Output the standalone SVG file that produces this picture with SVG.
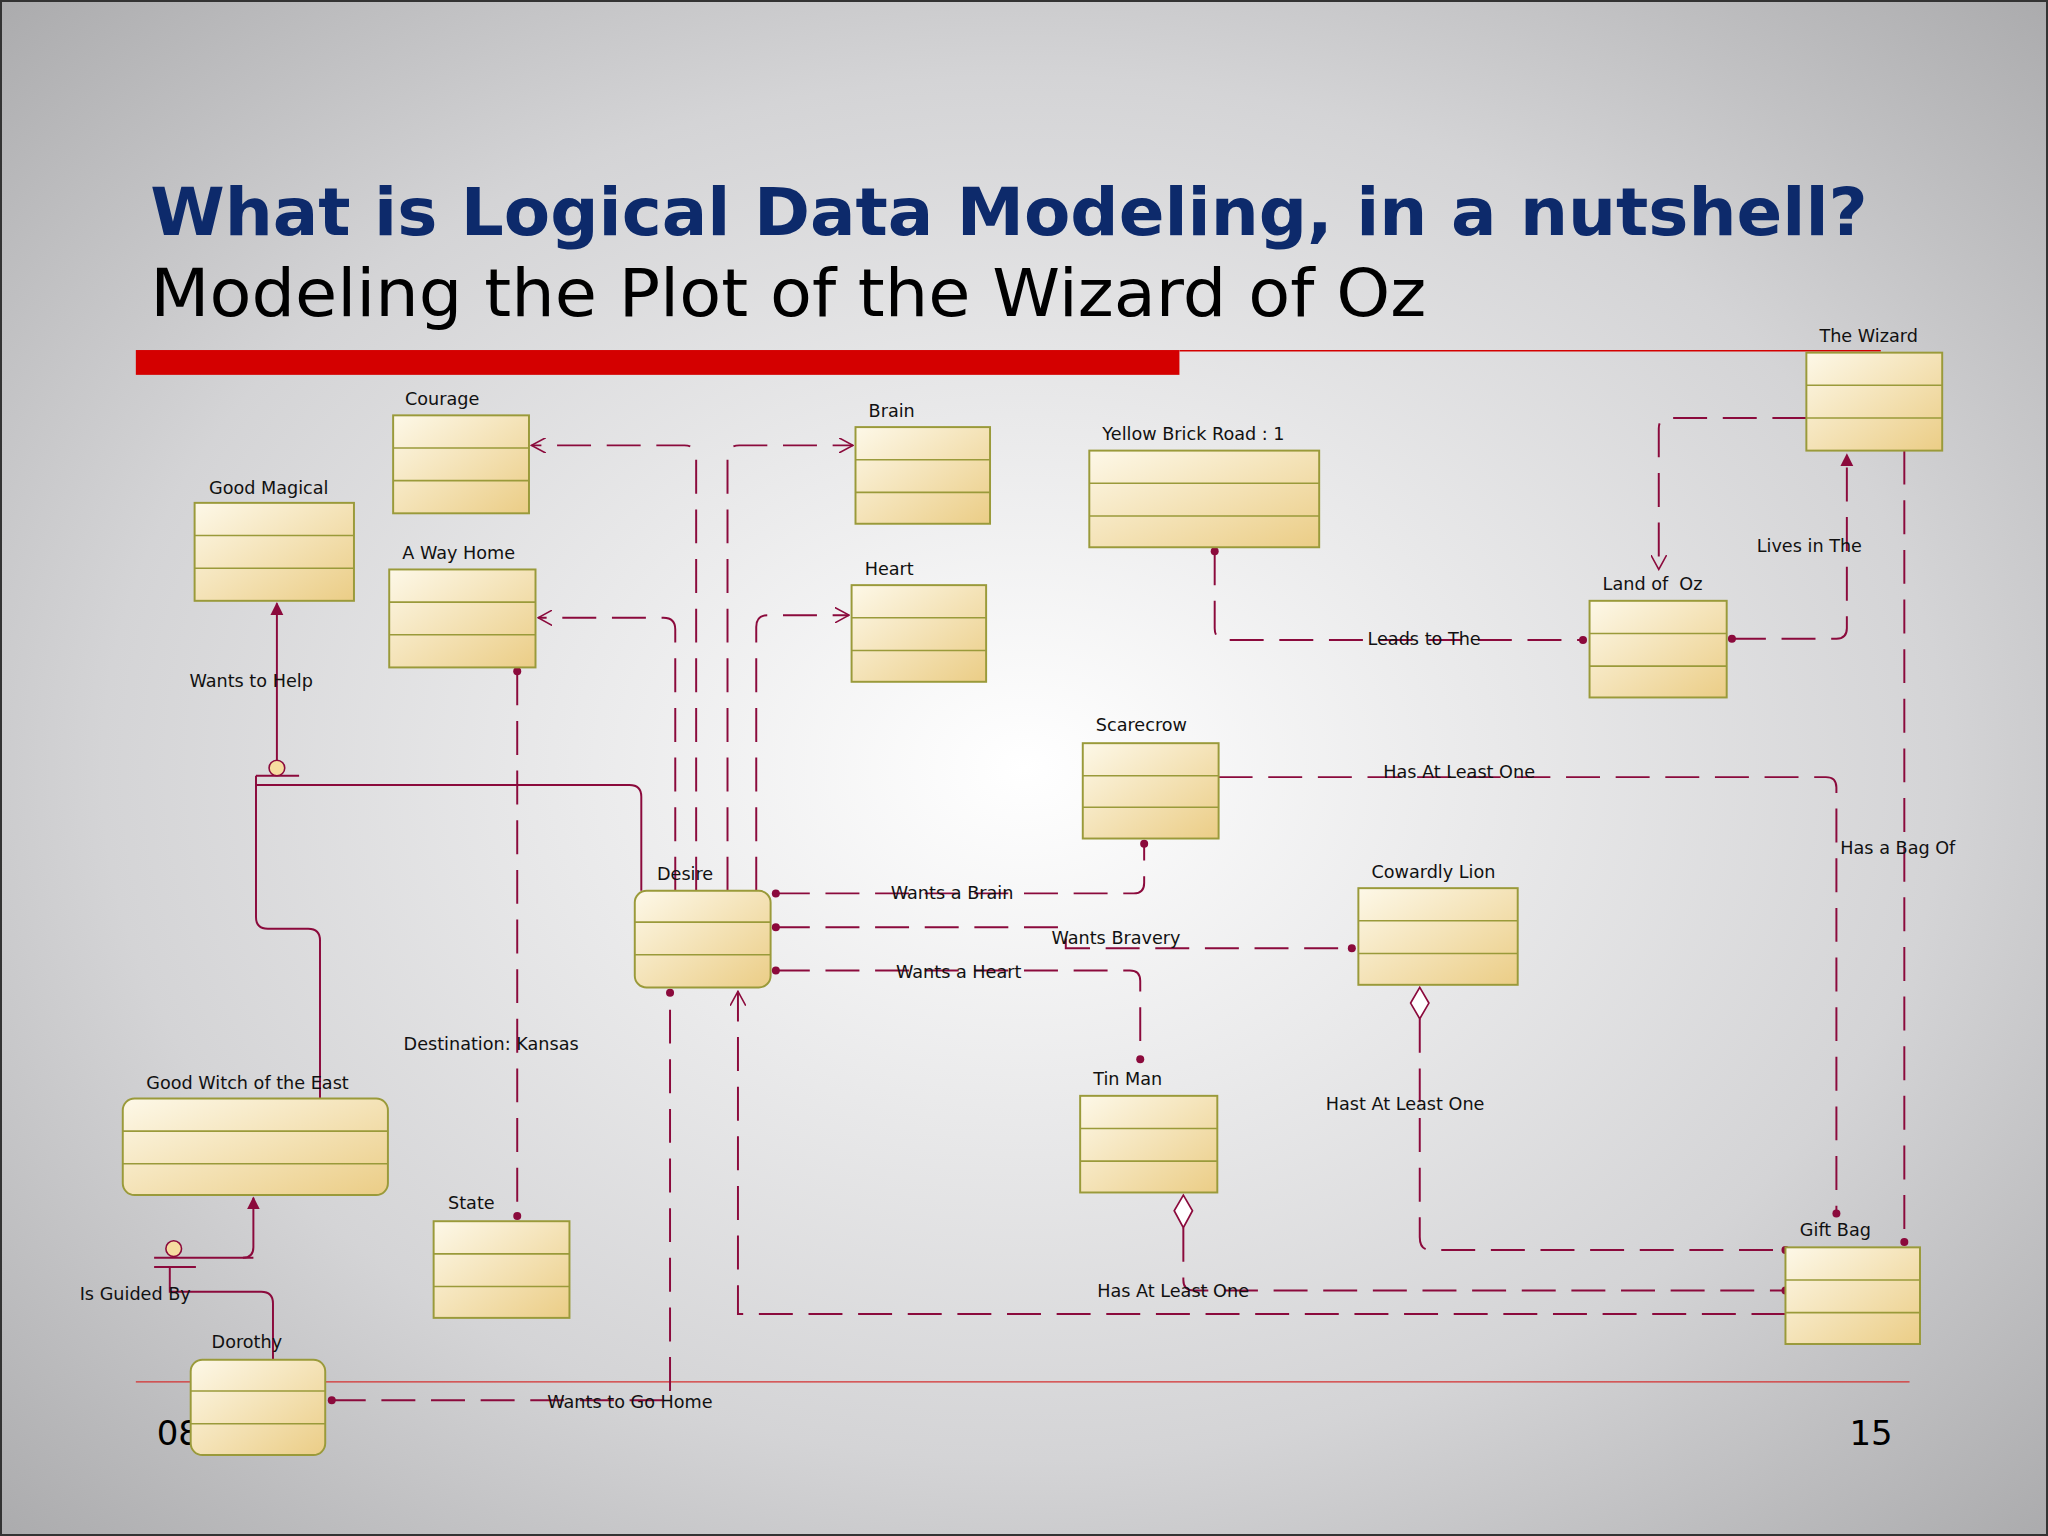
<svg xmlns="http://www.w3.org/2000/svg" width="2048" height="1536" viewBox="0 0 2048 1536">
<defs>
<radialGradient id="bg" cx="0.5" cy="0.5" r="0.75">
<stop offset="0" stop-color="#ffffff"/><stop offset="0.6" stop-color="#d4d4d6"/><stop offset="1" stop-color="#a4a4a6"/>
</radialGradient>
<linearGradient id="box" x1="0" y1="0" x2="1" y2="1">
<stop offset="0" stop-color="#fdf8e8"/><stop offset="1" stop-color="#ebcd86"/>
</linearGradient>
<marker id="open" viewBox="0 0 12 12" refX="11" refY="6" markerWidth="12" markerHeight="12" markerUnits="userSpaceOnUse" orient="auto"><path d="M0,0 L11,6 L0,12" fill="none" stroke="#8b0a3c" stroke-width="1.2"/></marker>
<marker id="fill" viewBox="0 0 10 14" refX="9" refY="7" markerWidth="10" markerHeight="14" markerUnits="userSpaceOnUse" orient="auto"><path d="M0,2 L10,7 L0,12 Z" fill="#8b0a3c"/></marker>
<marker id="dot" viewBox="0 0 8 8" refX="4" refY="4" markerWidth="7" markerHeight="7" markerUnits="userSpaceOnUse"><circle cx="4" cy="4" r="3.5" fill="#8b0a3c"/></marker>
</defs>
<style>
.b{fill:url(#box);stroke:#9a9a3a;stroke-width:1.5}
.d{stroke:#9a9a3a;stroke-width:1.2}
.nl{font-family:"DejaVu Sans",sans-serif;font-size:13.5px;fill:#111}
.cl{font-family:"DejaVu Sans",sans-serif;font-size:13.5px;fill:#111}
.c{fill:none;stroke:#8b0a3c;stroke-width:1.5;stroke-dasharray:26 12}
.s{fill:none;stroke:#8b0a3c;stroke-width:1.5}
</style>
<rect width="2048" height="1536" fill="url(#bg)"/>
<rect x="1" y="1" width="2046" height="1534" fill="none" stroke="#333" stroke-width="2"/>
<g transform="scale(1.30612)">
<text x="115" y="180" font-family="'DejaVu Sans',Verdana,sans-serif" font-weight="bold" font-size="50" fill="#0d2a6b" textLength="1315" lengthAdjust="spacingAndGlyphs">What is Logical Data Modeling, in a nutshell?</text>
<text x="115" y="242" font-family="'DejaVu Sans',Verdana,sans-serif" font-size="50" fill="#000" textLength="977" lengthAdjust="spacingAndGlyphs">Modeling the Plot of the Wizard of Oz</text>
<rect x="104" y="268" width="799" height="19" fill="#d40000"/>
<line x1="903" y1="268.5" x2="1440" y2="268.5" stroke="#d40000" stroke-width="1.2"/>
<line x1="104" y1="1058" x2="1462" y2="1058" stroke="#d43030" stroke-width="1"/>
<text x="120" y="1106" font-family="'DejaVu Sans',sans-serif" font-size="26" fill="#000">08</text>
<text x="1416" y="1106" font-family="'DejaVu Sans',sans-serif" font-size="26" fill="#000">15</text>

<g id="connectors">
<path class="c" d="M533,682 V350 Q533,341 524,341 H407" marker-end="url(#open)"/>
<path class="c" d="M557,682 V350 Q557,341 566,341 H653" marker-end="url(#open)"/>
<path class="c" d="M517,682 V482 Q517,473 508,473 H412" marker-end="url(#open)"/>
<path class="c" d="M579,682 V480 Q579,471 588,471 H650" marker-end="url(#open)"/>
<path class="s" d="M491,682 V610 Q491,601 482,601 H196"/>
<path class="s" d="M245,841 V720 Q245,711 236,711 H205 Q196,711 196,702 V594"/>
<line class="s" x1="196" y1="594" x2="229" y2="594"/>
<circle cx="212" cy="588" r="6" fill="#f6dca0" stroke="#8b0a3c" stroke-width="1.2"/>
<path class="s" d="M212,582 V462" marker-end="url(#fill)"/>
<path class="s" d="M209,1041 V998 Q209,989 200,989 H130 V970"/>
<line class="s" x1="118" y1="970" x2="150" y2="970"/>
<line class="s" x1="118" y1="963" x2="194" y2="963"/>
<circle cx="133" cy="956" r="6" fill="#f6dca0" stroke="#8b0a3c" stroke-width="1.2"/>
<path class="s" d="M186,963 Q194,963 194,955 V917" marker-end="url(#fill)"/>
<path class="c" d="M396,514 V931" marker-start="url(#dot)" marker-end="url(#dot)"/>
<path class="c" d="M254,1072 H513 V760" marker-start="url(#dot)" marker-end="url(#dot)"/>
<path class="c" d="M594,684 H868 Q876,684 876,676 V646" marker-start="url(#dot)" marker-end="url(#dot)"/>
<path class="c" d="M594,710 H810 Q816,710 816,716 V726 H1035" marker-start="url(#dot)" marker-end="url(#dot)"/>
<path class="c" d="M594,743 H865 Q873,743 873,751 V811" marker-start="url(#dot)" marker-end="url(#dot)"/>
<path class="c" d="M930,422 V481 Q930,490 939,490 H1212" marker-start="url(#dot)" marker-end="url(#dot)"/>
<path class="c" d="M1326,489 H1406 Q1414,489 1414,481 V348" marker-start="url(#dot)" marker-end="url(#fill)"/>
<path class="c" d="M1383,320 H1278 Q1270,320 1270,328 V436" marker-end="url(#open)"/>
<path class="c" d="M933,595 H1398 Q1406,595 1406,603 V929" marker-end="url(#dot)"/>
<path class="c" d="M1458,345 V951" marker-end="url(#dot)"/>
<path d="M1087,756 L1094,768 L1087,780 L1080,768 Z" fill="#fff" stroke="#8b0a3c" stroke-width="1.3"/>
<path class="c" d="M1087,780 V947 Q1087,957 1095,957 H1367" marker-end="url(#dot)"/>
<path d="M906,915 L913,927 L906,940 L899,927 Z" fill="#fff" stroke="#8b0a3c" stroke-width="1.3"/>
<path class="c" d="M906,940 V980 Q906,988 914,988 H1367" marker-end="url(#dot)"/>
<path class="c" d="M1367,1006 H565 V759" marker-end="url(#open)"/>
<text class="cl" x="145" y="526">Wants to Help</text>
<text class="cl" x="61" y="995">Is Guided By</text>
<text class="cl" x="309" y="804">Destination: Kansas</text>
<text class="cl" x="419" y="1078">Wants to Go Home</text>
<text class="cl" x="682" y="688">Wants a Brain</text>
<text class="cl" x="805" y="723">Wants Bravery</text>
<text class="cl" x="686" y="749">Wants a Heart</text>
<text class="cl" x="1047" y="494">Leads to The</text>
<text class="cl" x="1345" y="423">Lives in The</text>
<text class="cl" x="1059" y="596">Has At Least One</text>
<text class="cl" x="1409" y="654">Has a Bag Of</text>
<text class="cl" x="1015" y="850">Hast At Least One</text>
<text class="cl" x="840" y="993">Has At Least One</text>
</g>

<g id="courage"><rect class="b" x="301" y="318" width="104" height="75"/><line class="d" x1="301" y1="343" x2="405" y2="343"/><line class="d" x1="301" y1="368" x2="405" y2="368"/><text class="nl" x="310" y="310">Courage</text></g>
<g id="brain"><rect class="b" x="655" y="327" width="103" height="74"/><line class="d" x1="655" y1="352" x2="758" y2="352"/><line class="d" x1="655" y1="377" x2="758" y2="377"/><text class="nl" x="665" y="319">Brain</text></g>
<g id="ybr"><rect class="b" x="834" y="345" width="176" height="74"/><line class="d" x1="834" y1="370" x2="1010" y2="370"/><line class="d" x1="834" y1="395" x2="1010" y2="395"/><text class="nl" x="844" y="337">Yellow Brick Road : 1</text></g>
<g id="wizard"><rect class="b" x="1383" y="270" width="104" height="75"/><line class="d" x1="1383" y1="295" x2="1487" y2="295"/><line class="d" x1="1383" y1="320" x2="1487" y2="320"/><text class="nl" x="1393" y="262">The Wizard</text></g>
<g id="goodmagical"><rect class="b" x="149" y="385" width="122" height="75"/><line class="d" x1="149" y1="410" x2="271" y2="410"/><line class="d" x1="149" y1="435" x2="271" y2="435"/><text class="nl" x="160" y="378">Good Magical</text></g>
<g id="wayhome"><rect class="b" x="298" y="436" width="112" height="75"/><line class="d" x1="298" y1="461" x2="410" y2="461"/><line class="d" x1="298" y1="486" x2="410" y2="486"/><text class="nl" x="308" y="428">A Way Home</text></g>
<g id="heart"><rect class="b" x="652" y="448" width="103" height="74"/><line class="d" x1="652" y1="473" x2="755" y2="473"/><line class="d" x1="652" y1="498" x2="755" y2="498"/><text class="nl" x="662" y="440">Heart</text></g>
<g id="landofoz"><rect class="b" x="1217" y="460" width="105" height="74"/><line class="d" x1="1217" y1="485" x2="1322" y2="485"/><line class="d" x1="1217" y1="510" x2="1322" y2="510"/><text class="nl" x="1227" y="452" xml:space="preserve">Land of  Oz</text></g>
<g id="scarecrow"><rect class="b" x="829" y="569" width="104" height="73"/><line class="d" x1="829" y1="594" x2="933" y2="594"/><line class="d" x1="829" y1="618" x2="933" y2="618"/><text class="nl" x="839" y="560">Scarecrow</text></g>
<g id="desire"><rect class="b" x="486" y="682" width="104" height="74" rx="9"/><line class="d" x1="486" y1="706" x2="590" y2="706"/><line class="d" x1="486" y1="731" x2="590" y2="731"/><text class="nl" x="503" y="674">Desire</text></g>
<g id="lion"><rect class="b" x="1040" y="680" width="122" height="74"/><line class="d" x1="1040" y1="705" x2="1162" y2="705"/><line class="d" x1="1040" y1="730" x2="1162" y2="730"/><text class="nl" x="1050" y="672">Cowardly Lion</text></g>
<g id="tinman"><rect class="b" x="827" y="839" width="105" height="74"/><line class="d" x1="827" y1="864" x2="932" y2="864"/><line class="d" x1="827" y1="889" x2="932" y2="889"/><text class="nl" x="837" y="831">Tin Man</text></g>
<g id="goodwitch"><rect class="b" x="94" y="841" width="203" height="74" rx="9"/><line class="d" x1="94" y1="866" x2="297" y2="866"/><line class="d" x1="94" y1="891" x2="297" y2="891"/><text class="nl" x="112" y="834">Good Witch of the East</text></g>
<g id="state"><rect class="b" x="332" y="935" width="104" height="74"/><line class="d" x1="332" y1="960" x2="436" y2="960"/><line class="d" x1="332" y1="985" x2="436" y2="985"/><text class="nl" x="343" y="926">State</text></g>
<g id="giftbag"><rect class="b" x="1367" y="955" width="103" height="74"/><line class="d" x1="1367" y1="980" x2="1470" y2="980"/><line class="d" x1="1367" y1="1005" x2="1470" y2="1005"/><text class="nl" x="1378" y="946">Gift Bag</text></g>
<g id="dorothy"><rect class="b" x="146" y="1041" width="103" height="73" rx="9"/><line class="d" x1="146" y1="1065" x2="249" y2="1065"/><line class="d" x1="146" y1="1090" x2="249" y2="1090"/><text class="nl" x="162" y="1032">Dorothy</text></g>
</g>
</svg>
